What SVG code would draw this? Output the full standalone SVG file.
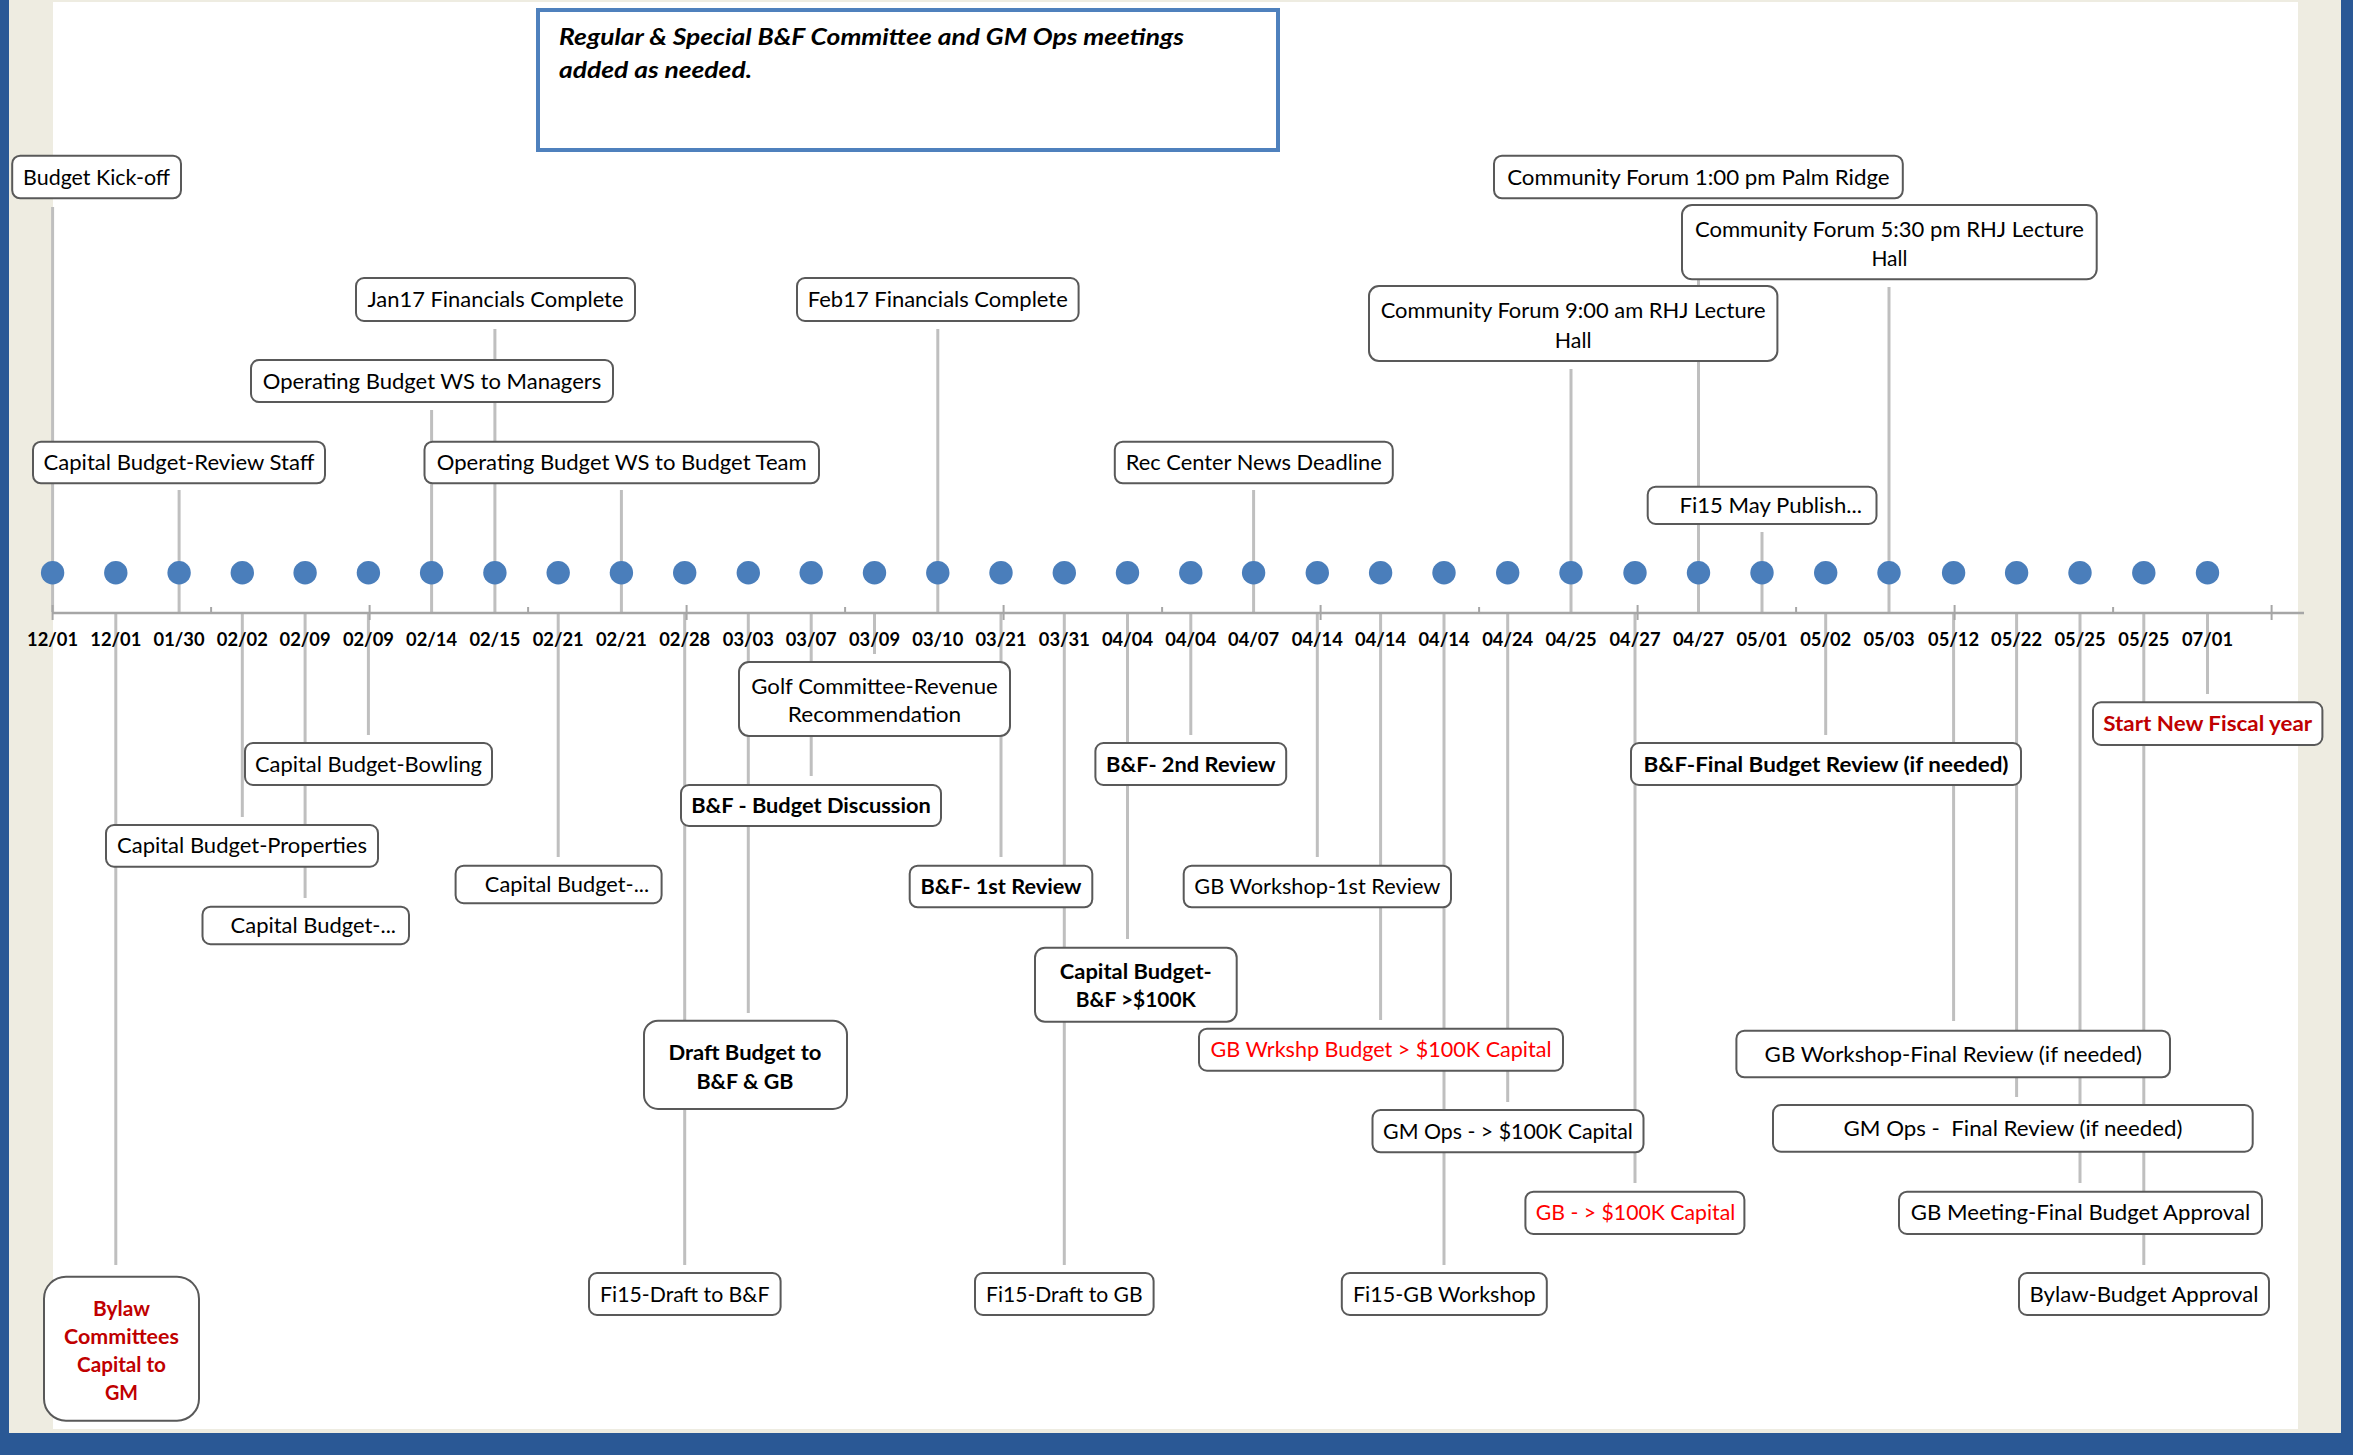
<svg xmlns="http://www.w3.org/2000/svg" width="2353" height="1455" viewBox="0 0 2353 1455">
<style>
.box{fill:#fff;stroke:#595959;stroke-width:2}
.t{font-family:Lato,"Liberation Sans",sans-serif;font-size:21px;fill:#000;text-anchor:middle}
.b{font-weight:bold}
.red{fill:#ff0000}
.dred{fill:#c00000}
.lead{stroke:#bfbfbf;stroke-width:3;fill:none}
.cap{fill:#bfbfbf}
.tick{stroke:#a6a6a6;stroke-width:2}
.dot{fill:#4a7ebb}
.date{font-family:Lato,"Liberation Sans",sans-serif;font-size:19px;font-weight:bold;fill:#000;text-anchor:middle}
</style>
<g id="frame">
<rect x="0" y="0" width="2353" height="1455" fill="#eeece1"/>
<rect x="53" y="2" width="2245" height="1427" fill="#fff"/>
<rect x="0" y="0" width="9" height="1455" fill="#2a5895"/>
<rect x="2341" y="0" width="12" height="1455" fill="#2a5895"/>
<rect x="0" y="1433" width="2353" height="22" fill="#2a5895"/>
</g>
<g id="note">
<rect x="538" y="10" width="740" height="140" fill="#fff" stroke="#4f81bd" stroke-width="4"/>
<text x="559" y="45" font-family="Lato,'Liberation Sans',sans-serif" font-size="22" font-weight="bold" font-style="italic" textLength="625" lengthAdjust="spacingAndGlyphs">Regular &amp; Special B&amp;F Committee and GM Ops meetings</text>
<text x="559" y="78" font-family="Lato,'Liberation Sans',sans-serif" font-size="22" font-weight="bold" font-style="italic" textLength="193" lengthAdjust="spacingAndGlyphs">added as needed.</text>
</g>
<g id="connectors">
<line class="lead" x1="52.6" y1="207" x2="52.6" y2="612"/>
<line class="lead" x1="179.1" y1="490" x2="179.1" y2="612"/>
<line class="lead" x1="431.6" y1="410" x2="431.6" y2="612"/>
<line class="lead" x1="494.9" y1="329" x2="494.9" y2="612"/>
<line class="lead" x1="621.4" y1="490" x2="621.4" y2="612"/>
<line class="lead" x1="937.8" y1="329" x2="937.8" y2="612"/>
<line class="lead" x1="1253.6" y1="490" x2="1253.6" y2="612"/>
<line class="lead" x1="1571" y1="369" x2="1571" y2="612"/>
<line class="lead" x1="1698.5" y1="206" x2="1698.5" y2="612"/>
<line class="lead" x1="1762" y1="532" x2="1762" y2="612"/>
<line class="lead" x1="1889" y1="287" x2="1889" y2="612"/>
<line class="lead" x1="115.8" y1="612" x2="115.8" y2="1265"/>
<line class="lead" x1="242.3" y1="612" x2="242.3" y2="817"/>
<line class="lead" x1="305.1" y1="612" x2="305.1" y2="898"/>
<line class="lead" x1="368.4" y1="612" x2="368.4" y2="735"/>
<line class="lead" x1="558.2" y1="612" x2="558.2" y2="857"/>
<line class="lead" x1="684.7" y1="612" x2="684.7" y2="1265"/>
<line class="lead" x1="748.3" y1="612" x2="748.3" y2="1013"/>
<line class="lead" x1="811.2" y1="612" x2="811.2" y2="776"/>
<line class="lead" x1="874.5" y1="612" x2="874.5" y2="654"/>
<line class="lead" x1="1001" y1="612" x2="1001" y2="857"/>
<line class="lead" x1="1064.3" y1="612" x2="1064.3" y2="1265"/>
<line class="lead" x1="1127.5" y1="612" x2="1127.5" y2="939"/>
<line class="lead" x1="1190.8" y1="612" x2="1190.8" y2="735"/>
<line class="lead" x1="1317.3" y1="612" x2="1317.3" y2="857"/>
<line class="lead" x1="1380.6" y1="612" x2="1380.6" y2="1020"/>
<line class="lead" x1="1444" y1="612" x2="1444" y2="1265"/>
<line class="lead" x1="1507.7" y1="612" x2="1507.7" y2="1102"/>
<line class="lead" x1="1635" y1="612" x2="1635" y2="1183"/>
<line class="lead" x1="1825.7" y1="612" x2="1825.7" y2="735"/>
<line class="lead" x1="1953.6" y1="612" x2="1953.6" y2="1021"/>
<line class="lead" x1="2016.6" y1="612" x2="2016.6" y2="1097"/>
<line class="lead" x1="2080" y1="612" x2="2080" y2="1183"/>
<line class="lead" x1="2143.8" y1="612" x2="2143.8" y2="1265"/>
<line class="lead" x1="2207.5" y1="612" x2="2207.5" y2="694"/>
</g>
<g id="axis">
<line x1="52.6" y1="613" x2="2304" y2="613" stroke="#a6a6a6" stroke-width="2.5"/>
<line class="tick" x1="52.6" y1="605" x2="52.6" y2="620"/>
<line class="tick" x1="211.1" y1="607" x2="211.1" y2="613"/>
<line class="tick" x1="369.6" y1="605" x2="369.6" y2="620"/>
<line class="tick" x1="528.1" y1="607" x2="528.1" y2="613"/>
<line class="tick" x1="686.6" y1="605" x2="686.6" y2="620"/>
<line class="tick" x1="845.1" y1="607" x2="845.1" y2="613"/>
<line class="tick" x1="1003.6" y1="605" x2="1003.6" y2="620"/>
<line class="tick" x1="1162.1" y1="607" x2="1162.1" y2="613"/>
<line class="tick" x1="1320.6" y1="605" x2="1320.6" y2="620"/>
<line class="tick" x1="1479.1" y1="607" x2="1479.1" y2="613"/>
<line class="tick" x1="1637.6" y1="605" x2="1637.6" y2="620"/>
<line class="tick" x1="1796.1" y1="607" x2="1796.1" y2="613"/>
<line class="tick" x1="1954.6" y1="605" x2="1954.6" y2="620"/>
<line class="tick" x1="2113.1" y1="607" x2="2113.1" y2="613"/>
<line class="tick" x1="2271.6" y1="605" x2="2271.6" y2="620"/>
</g>
<g id="dots">
<circle class="dot" cx="52.6" cy="572.7" r="11.7"/>
<circle class="dot" cx="115.8" cy="572.7" r="11.7"/>
<circle class="dot" cx="179.1" cy="572.7" r="11.7"/>
<circle class="dot" cx="242.3" cy="572.7" r="11.7"/>
<circle class="dot" cx="305.1" cy="572.7" r="11.7"/>
<circle class="dot" cx="368.4" cy="572.7" r="11.7"/>
<circle class="dot" cx="431.6" cy="572.7" r="11.7"/>
<circle class="dot" cx="494.9" cy="572.7" r="11.7"/>
<circle class="dot" cx="558.2" cy="572.7" r="11.7"/>
<circle class="dot" cx="621.4" cy="572.7" r="11.7"/>
<circle class="dot" cx="684.7" cy="572.7" r="11.7"/>
<circle class="dot" cx="748.3" cy="572.7" r="11.7"/>
<circle class="dot" cx="811.2" cy="572.7" r="11.7"/>
<circle class="dot" cx="874.5" cy="572.7" r="11.7"/>
<circle class="dot" cx="937.8" cy="572.7" r="11.7"/>
<circle class="dot" cx="1001" cy="572.7" r="11.7"/>
<circle class="dot" cx="1064.3" cy="572.7" r="11.7"/>
<circle class="dot" cx="1127.5" cy="572.7" r="11.7"/>
<circle class="dot" cx="1190.8" cy="572.7" r="11.7"/>
<circle class="dot" cx="1253.6" cy="572.7" r="11.7"/>
<circle class="dot" cx="1317.3" cy="572.7" r="11.7"/>
<circle class="dot" cx="1380.6" cy="572.7" r="11.7"/>
<circle class="dot" cx="1444" cy="572.7" r="11.7"/>
<circle class="dot" cx="1507.7" cy="572.7" r="11.7"/>
<circle class="dot" cx="1571" cy="572.7" r="11.7"/>
<circle class="dot" cx="1635" cy="572.7" r="11.7"/>
<circle class="dot" cx="1698.5" cy="572.7" r="11.7"/>
<circle class="dot" cx="1762" cy="572.7" r="11.7"/>
<circle class="dot" cx="1825.7" cy="572.7" r="11.7"/>
<circle class="dot" cx="1889" cy="572.7" r="11.7"/>
<circle class="dot" cx="1953.6" cy="572.7" r="11.7"/>
<circle class="dot" cx="2016.6" cy="572.7" r="11.7"/>
<circle class="dot" cx="2080" cy="572.7" r="11.7"/>
<circle class="dot" cx="2143.8" cy="572.7" r="11.7"/>
<circle class="dot" cx="2207.5" cy="572.7" r="11.7"/>
</g>
<g id="dates">
<text class="date" x="52.6" y="646" textLength="51" lengthAdjust="spacingAndGlyphs">12/01</text>
<text class="date" x="115.8" y="646" textLength="51" lengthAdjust="spacingAndGlyphs">12/01</text>
<text class="date" x="179.1" y="646" textLength="51" lengthAdjust="spacingAndGlyphs">01/30</text>
<text class="date" x="242.3" y="646" textLength="51" lengthAdjust="spacingAndGlyphs">02/02</text>
<text class="date" x="305.1" y="646" textLength="51" lengthAdjust="spacingAndGlyphs">02/09</text>
<text class="date" x="368.4" y="646" textLength="51" lengthAdjust="spacingAndGlyphs">02/09</text>
<text class="date" x="431.6" y="646" textLength="51" lengthAdjust="spacingAndGlyphs">02/14</text>
<text class="date" x="494.9" y="646" textLength="51" lengthAdjust="spacingAndGlyphs">02/15</text>
<text class="date" x="558.2" y="646" textLength="51" lengthAdjust="spacingAndGlyphs">02/21</text>
<text class="date" x="621.4" y="646" textLength="51" lengthAdjust="spacingAndGlyphs">02/21</text>
<text class="date" x="684.7" y="646" textLength="51" lengthAdjust="spacingAndGlyphs">02/28</text>
<text class="date" x="748.3" y="646" textLength="51" lengthAdjust="spacingAndGlyphs">03/03</text>
<text class="date" x="811.2" y="646" textLength="51" lengthAdjust="spacingAndGlyphs">03/07</text>
<text class="date" x="874.5" y="646" textLength="51" lengthAdjust="spacingAndGlyphs">03/09</text>
<text class="date" x="937.8" y="646" textLength="51" lengthAdjust="spacingAndGlyphs">03/10</text>
<text class="date" x="1001" y="646" textLength="51" lengthAdjust="spacingAndGlyphs">03/21</text>
<text class="date" x="1064.3" y="646" textLength="51" lengthAdjust="spacingAndGlyphs">03/31</text>
<text class="date" x="1127.5" y="646" textLength="51" lengthAdjust="spacingAndGlyphs">04/04</text>
<text class="date" x="1190.8" y="646" textLength="51" lengthAdjust="spacingAndGlyphs">04/04</text>
<text class="date" x="1253.6" y="646" textLength="51" lengthAdjust="spacingAndGlyphs">04/07</text>
<text class="date" x="1317.3" y="646" textLength="51" lengthAdjust="spacingAndGlyphs">04/14</text>
<text class="date" x="1380.6" y="646" textLength="51" lengthAdjust="spacingAndGlyphs">04/14</text>
<text class="date" x="1444" y="646" textLength="51" lengthAdjust="spacingAndGlyphs">04/14</text>
<text class="date" x="1507.7" y="646" textLength="51" lengthAdjust="spacingAndGlyphs">04/24</text>
<text class="date" x="1571" y="646" textLength="51" lengthAdjust="spacingAndGlyphs">04/25</text>
<text class="date" x="1635" y="646" textLength="51" lengthAdjust="spacingAndGlyphs">04/27</text>
<text class="date" x="1698.5" y="646" textLength="51" lengthAdjust="spacingAndGlyphs">04/27</text>
<text class="date" x="1762" y="646" textLength="51" lengthAdjust="spacingAndGlyphs">05/01</text>
<text class="date" x="1825.7" y="646" textLength="51" lengthAdjust="spacingAndGlyphs">05/02</text>
<text class="date" x="1889" y="646" textLength="51" lengthAdjust="spacingAndGlyphs">05/03</text>
<text class="date" x="1953.6" y="646" textLength="51" lengthAdjust="spacingAndGlyphs">05/12</text>
<text class="date" x="2016.6" y="646" textLength="51" lengthAdjust="spacingAndGlyphs">05/22</text>
<text class="date" x="2080" y="646" textLength="51" lengthAdjust="spacingAndGlyphs">05/25</text>
<text class="date" x="2143.8" y="646" textLength="51" lengthAdjust="spacingAndGlyphs">05/25</text>
<text class="date" x="2207.5" y="646" textLength="51" lengthAdjust="spacingAndGlyphs">07/01</text>
</g>
<g id="n-budget-kickoff"><rect class="box" x="12.2" y="155.7" width="168.8" height="42.6" rx="8"/><text class="t" x="96.6" y="184.5" textLength="147" lengthAdjust="spacingAndGlyphs">Budget Kick-off</text></g>
<g id="n-bylaw-committees"><rect class="box" x="44" y="1276.7" width="155" height="144" rx="22"/><text class="t b dred" x="121.5" y="1315.8" textLength="57" lengthAdjust="spacingAndGlyphs">Bylaw</text><text class="t b dred" x="121.5" y="1344.2" textLength="114.8" lengthAdjust="spacingAndGlyphs">Committees</text><text class="t b dred" x="121.5" y="1371.8" textLength="89" lengthAdjust="spacingAndGlyphs">Capital to</text><text class="t b dred" x="121.5" y="1399.8" textLength="33" lengthAdjust="spacingAndGlyphs">GM</text></g>
<g id="n-capital-review-staff"><rect class="box" x="33" y="441.7" width="292" height="41.6" rx="8"/><text class="t" x="179" y="470" textLength="271" lengthAdjust="spacingAndGlyphs">Capital Budget-Review Staff</text></g>
<g id="n-capital-properties"><rect class="box" x="106" y="825" width="272" height="41.7" rx="8"/><text class="t" x="242" y="853.4" textLength="250" lengthAdjust="spacingAndGlyphs">Capital Budget-Properties</text></g>
<g id="n-capital-0209"><rect class="box" x="202.5" y="906.7" width="206.5" height="37.5" rx="8"/><text class="t" x="313.3" y="932.8" textLength="165.4" lengthAdjust="spacingAndGlyphs">Capital Budget-...</text></g>
<g id="n-capital-bowling"><rect class="box" x="245" y="743" width="247" height="42" rx="8"/><text class="t" x="368.5" y="771.5" textLength="227" lengthAdjust="spacingAndGlyphs">Capital Budget-Bowling</text></g>
<g id="n-opws-managers"><rect class="box" x="251" y="360" width="362" height="42" rx="8"/><text class="t" x="432" y="388.5" textLength="338.5" lengthAdjust="spacingAndGlyphs">Operating Budget WS to Managers</text></g>
<g id="n-jan17"><rect class="box" x="356" y="278" width="279" height="43" rx="8"/><text class="t" x="495.5" y="307" textLength="256" lengthAdjust="spacingAndGlyphs">Jan17 Financials Complete</text></g>
<g id="n-capital-0221"><rect class="box" x="455.6" y="865.7" width="206" height="37.5" rx="8"/><text class="t" x="567" y="892" textLength="164.3" lengthAdjust="spacingAndGlyphs">Capital Budget-...</text></g>
<g id="n-opws-team"><rect class="box" x="424.5" y="441.7" width="394.5" height="41.6" rx="8"/><text class="t" x="621.7" y="470" textLength="369.9" lengthAdjust="spacingAndGlyphs">Operating Budget WS to Budget Team</text></g>
<g id="n-fi15-draft-bf"><rect class="box" x="589" y="1273" width="191.6" height="42" rx="8"/><text class="t" x="684.8" y="1301.5" textLength="169.4" lengthAdjust="spacingAndGlyphs">Fi15-Draft to B&amp;F</text></g>
<g id="n-draft-budget"><rect class="box" x="644" y="1020.7" width="203" height="88.3" rx="14"/><text class="t b" x="744.9" y="1059.8" textLength="153" lengthAdjust="spacingAndGlyphs">Draft Budget to</text><text class="t b" x="744.9" y="1088.5" textLength="97" lengthAdjust="spacingAndGlyphs">B&amp;F &amp; GB</text></g>
<g id="n-bf-discussion"><rect class="box" x="681" y="785" width="260" height="41" rx="8"/><text class="t b" x="811" y="813" textLength="239.5" lengthAdjust="spacingAndGlyphs">B&amp;F - Budget Discussion</text></g>
<g id="n-golf"><rect class="box" x="739" y="662" width="271" height="74" rx="10"/><text class="t" x="874.5" y="693.5" textLength="246.5" lengthAdjust="spacingAndGlyphs">Golf Committee-Revenue</text><text class="t" x="874.5" y="721.8" textLength="173.4" lengthAdjust="spacingAndGlyphs">Recommendation</text></g>
<g id="n-feb17"><rect class="box" x="797" y="278" width="281.6" height="43" rx="8"/><text class="t" x="937.8" y="307" textLength="260" lengthAdjust="spacingAndGlyphs">Feb17 Financials Complete</text></g>
<g id="n-bf-1st"><rect class="box" x="909.7" y="865.7" width="182.6" height="41.6" rx="8"/><text class="t b" x="1001" y="894" textLength="161" lengthAdjust="spacingAndGlyphs">B&amp;F- 1st Review</text></g>
<g id="n-fi15-draft-gb"><rect class="box" x="975" y="1273" width="178.6" height="42" rx="8"/><text class="t" x="1064.3" y="1301.5" textLength="156.6" lengthAdjust="spacingAndGlyphs">Fi15-Draft to GB</text></g>
<g id="n-capital-100k"><rect class="box" x="1035" y="947.7" width="201.7" height="74" rx="10"/><text class="t b" x="1135.8" y="978.5" textLength="152" lengthAdjust="spacingAndGlyphs">Capital Budget-</text><text class="t b" x="1135.8" y="1007" textLength="120" lengthAdjust="spacingAndGlyphs">B&amp;F &gt;$100K</text></g>
<g id="n-bf-2nd"><rect class="box" x="1095.4" y="743" width="190.8" height="42" rx="8"/><text class="t b" x="1190.8" y="771.5" textLength="169.4" lengthAdjust="spacingAndGlyphs">B&amp;F- 2nd Review</text></g>
<g id="n-rec-center"><rect class="box" x="1114.8" y="441.7" width="278" height="41.6" rx="8"/><text class="t" x="1253.8" y="470" textLength="256" lengthAdjust="spacingAndGlyphs">Rec Center News Deadline</text></g>
<g id="n-gb-ws-1st"><rect class="box" x="1183.7" y="865.7" width="267.3" height="41.6" rx="8"/><text class="t" x="1317.3" y="894" textLength="246" lengthAdjust="spacingAndGlyphs">GB Workshop-1st Review</text></g>
<g id="n-gb-wrkshp-100k"><rect class="box" x="1199" y="1028.7" width="364" height="42" rx="8"/><text class="t red" x="1381" y="1057.2" textLength="341" lengthAdjust="spacingAndGlyphs">GB Wrkshp Budget &gt; $100K Capital</text></g>
<g id="n-fi15-gb-ws"><rect class="box" x="1341.8" y="1273" width="205" height="42" rx="8"/><text class="t" x="1444.3" y="1301.5" textLength="182.8" lengthAdjust="spacingAndGlyphs">Fi15-GB Workshop</text></g>
<g id="n-gmops-100k"><rect class="box" x="1372.5" y="1110" width="271" height="42.3" rx="8"/><text class="t" x="1508" y="1138.6" textLength="249.8" lengthAdjust="spacingAndGlyphs">GM Ops - &gt; $100K Capital</text></g>
<g id="n-forum-900"><rect class="box" x="1369" y="286" width="408.4" height="75" rx="10"/><text class="t" x="1573.2" y="317.5" textLength="385" lengthAdjust="spacingAndGlyphs">Community Forum 9:00 am RHJ Lecture</text><text class="t" x="1573.2" y="347.5" textLength="36.7" lengthAdjust="spacingAndGlyphs">Hall</text></g>
<g id="n-gb-100k"><rect class="box" x="1525.4" y="1191.7" width="219" height="42.3" rx="8"/><text class="t red" x="1635.5" y="1220.3" textLength="199.4" lengthAdjust="spacingAndGlyphs">GB - &gt; $100K Capital</text></g>
<g id="n-forum-100"><rect class="box" x="1494" y="155.7" width="408.8" height="42.6" rx="8"/><text class="t" x="1698.4" y="184.5" textLength="382.4" lengthAdjust="spacingAndGlyphs">Community Forum 1:00 pm Palm Ridge</text></g>
<g id="n-fi15-may"><rect class="box" x="1647.7" y="486.7" width="228.8" height="37.3" rx="8"/><text class="t" x="1770.7" y="512.8" textLength="182.5" lengthAdjust="spacingAndGlyphs">Fi15 May Publish...</text></g>
<g id="n-bf-final"><rect class="box" x="1631" y="743" width="390" height="42" rx="8"/><text class="t b" x="1826" y="771.5" textLength="365" lengthAdjust="spacingAndGlyphs">B&amp;F-Final Budget Review (if needed)</text></g>
<g id="n-forum-530"><rect class="box" x="1682" y="205" width="414.7" height="74.3" rx="10"/><text class="t" x="1889.4" y="236.5" textLength="389" lengthAdjust="spacingAndGlyphs">Community Forum 5:30 pm RHJ Lecture</text><text class="t" x="1889.4" y="265.5" textLength="36" lengthAdjust="spacingAndGlyphs">Hall</text></g>
<g id="n-gb-ws-final"><rect class="box" x="1736.4" y="1030.7" width="433.6" height="46.6" rx="8"/><text class="t" x="1953.3" y="1062" textLength="377.4" lengthAdjust="spacingAndGlyphs">GB Workshop-Final Review (if needed)</text></g>
<g id="n-gmops-final"><rect class="box" x="1773" y="1105" width="479.7" height="46.7" rx="8"/><text class="t" x="2013" y="1135.8" textLength="339" lengthAdjust="spacingAndGlyphs">GM Ops -&#160; Final Review (if needed)</text></g>
<g id="n-gb-meeting-final"><rect class="box" x="1899" y="1191.7" width="363" height="42.3" rx="8"/><text class="t" x="2080.5" y="1220.3" textLength="339.5" lengthAdjust="spacingAndGlyphs">GB Meeting-Final Budget Approval</text></g>
<g id="n-bylaw-approval"><rect class="box" x="2019" y="1273" width="250" height="42" rx="8"/><text class="t" x="2144" y="1301.5" textLength="228.8" lengthAdjust="spacingAndGlyphs">Bylaw-Budget Approval</text></g>
<g id="n-new-fiscal"><rect class="box" x="2093" y="702.3" width="229.4" height="42.7" rx="8"/><text class="t b dred" x="2207.7" y="731.2" textLength="209" lengthAdjust="spacingAndGlyphs">Start New Fiscal year</text></g>
</svg>
